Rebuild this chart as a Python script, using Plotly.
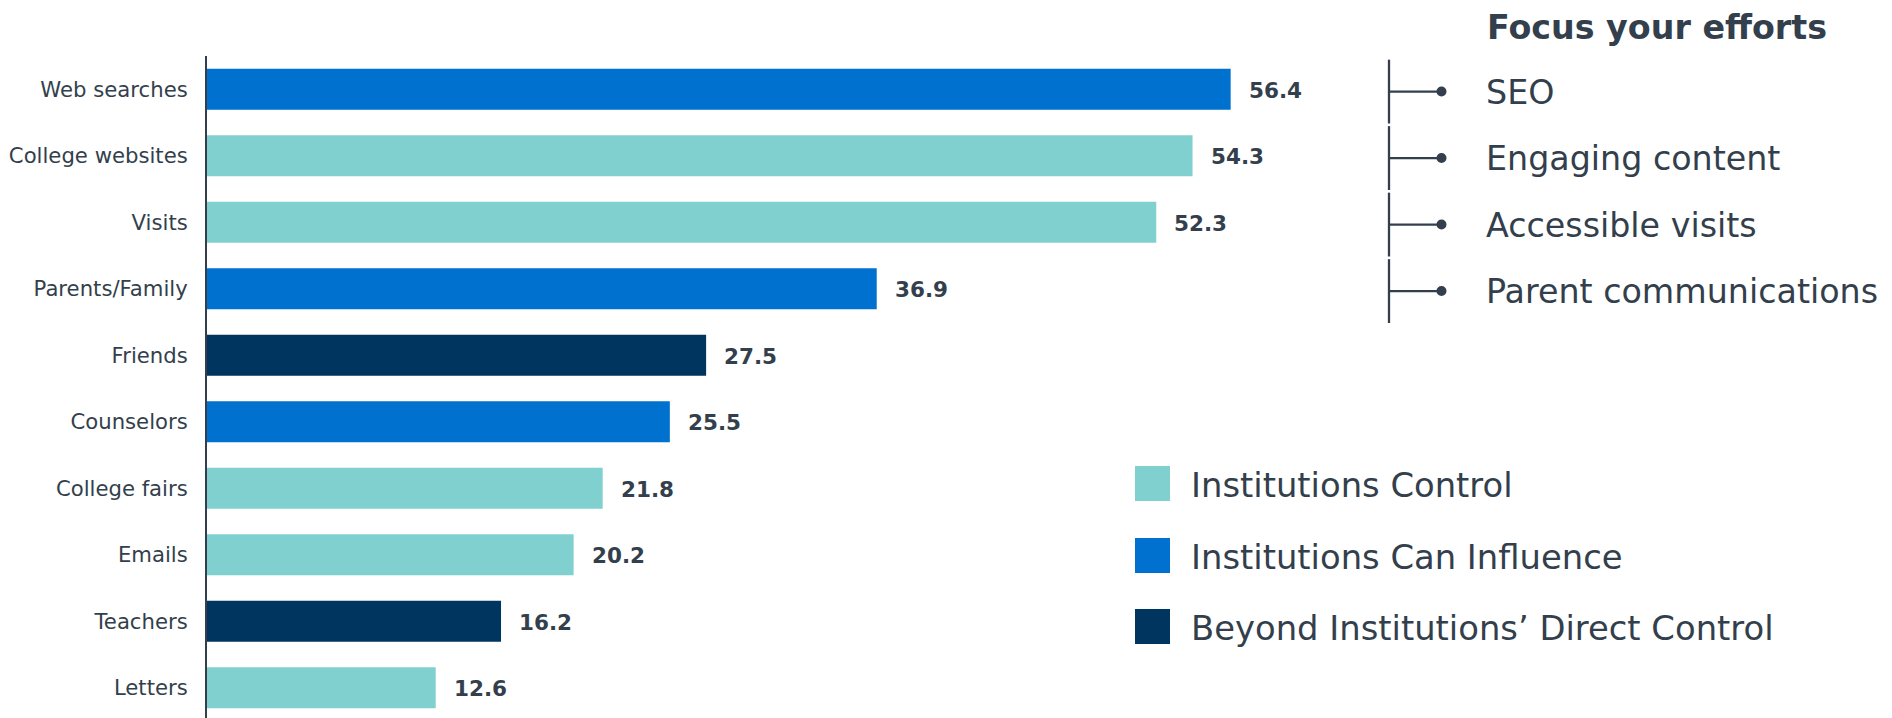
import plotly.graph_objects as go

# Information sources and the share of students using them
categories = ["Web searches", "College websites", "Visits", "Parents/Family", "Friends",
              "Counselors", "College fairs", "Emails", "Teachers", "Letters"]
values = [56.4, 54.3, 52.3, 36.9, 27.5, 25.5, 21.8, 20.2, 16.2, 12.6]
groups = ["influence", "control", "control", "influence", "beyond",
          "influence", "control", "control", "beyond", "control"]

group_names = {
    "control": "Institutions Control",
    "influence": "Institutions Can Influence",
    "beyond": "Beyond Institutions\u2019 Direct Control",
}
group_order = ["control", "influence", "beyond"]
group_colors = {"control": "#80D0CF", "influence": "#0071CE", "beyond": "#00355F"}

focus_title = "Focus your efforts"
focus_items = ["SEO", "Engaging content", "Accessible visits", "Parent communications"]

TEXT = "#333F4C"
FONT = "DejaVu Sans"

W, H = 1892, 718
ML, MR, MT, MB = 207, 0, 56, 0
PW, PH = W - ML - MR, H - MT - MB
PX_PER_UNIT = 18.15
ROW = 66.5                      # pixels per category row
Y_RANGE = [(H - MT) / ROW - 0.5, -0.5]


def px(x):
    """Horizontal pixel -> paper coordinate."""
    return (x - ML) / PW


def py(y):
    """Vertical pixel -> paper coordinate."""
    return 1 - (y - MT) / PH


fig = go.Figure()

for g in group_order:
    ys = [c for c, gg in zip(categories, groups) if gg == g]
    xs = [v for v, gg in zip(values, groups) if gg == g]
    fig.add_trace(go.Bar(
        x=xs, y=ys, orientation="h", name=group_names[g],
        marker=dict(color=group_colors[g], line=dict(width=0)),
        showlegend=False, hoverinfo="x+y",
    ))

annotations = []
shapes = []

# value labels beside each bar
for c, v in zip(categories, values):
    annotations.append(dict(
        x=v, y=c, xref="x", yref="y", text=f"<b>{v:.1f}</b>", showarrow=False,
        xanchor="left", yanchor="middle", xshift=16, yshift=-1,
        font=dict(family=FONT, size=21.5, color=TEXT),
    ))

# "Focus your efforts" panel
annotations.append(dict(
    x=px(1485), y=py(27), xref="paper", yref="paper", text=f"<b>{focus_title}</b>",
    showarrow=False, xanchor="left", yanchor="middle",
    font=dict(family=FONT, size=33.3, color=TEXT),
))
for i, item in enumerate(focus_items):
    yc = i + 0.035
    shapes.append(dict(type="line", xref="paper", yref="y",
                       x0=px(1389), x1=px(1389), y0=yc - 0.48, y1=yc + 0.48,
                       line=dict(color=TEXT, width=2.3)))
    shapes.append(dict(type="line", xref="paper", yref="y",
                       x0=px(1389), x1=px(1441), y0=yc, y1=yc,
                       line=dict(color=TEXT, width=2.3)))
    shapes.append(dict(type="circle", xref="paper", yref="y",
                       x0=px(1436.5), x1=px(1446.5), y0=yc - 5 / ROW, y1=yc + 5 / ROW,
                       fillcolor=TEXT, line=dict(width=0)))
    annotations.append(dict(
        x=px(1484), y=i, xref="paper", yref="y", text=item, showarrow=False,
        xanchor="left", yanchor="middle", yshift=-3,
        font=dict(family=FONT, size=33.3, color=TEXT),
    ))

# colour key
key_centers = [483.5, 555.5, 626.5]
for g, cy in zip(group_order, key_centers):
    shapes.append(dict(type="rect", xref="paper", yref="paper",
                       x0=px(1135), x1=px(1170), y0=py(cy + 17.5), y1=py(cy - 17.5),
                       fillcolor=group_colors[g], line=dict(width=0)))
    annotations.append(dict(
        x=px(1189), y=py(cy + 2), xref="paper", yref="paper", text=group_names[g],
        showarrow=False, xanchor="left", yanchor="middle",
        font=dict(family=FONT, size=33.8, color=TEXT),
    ))

fig.update_layout(
    width=W, height=H,
    margin=dict(l=ML, r=MR, t=MT, b=MB),
    paper_bgcolor="white", plot_bgcolor="white",
    barmode="overlay", bargap=0.38,
    showlegend=False,
    annotations=annotations, shapes=shapes,
    xaxis=dict(range=[0, PW / PX_PER_UNIT], visible=False, fixedrange=True),
    yaxis=dict(
        categoryorder="array", categoryarray=categories, range=Y_RANGE,
        showline=True, linecolor=TEXT, linewidth=2, showgrid=False, zeroline=False,
        ticks="outside", ticklen=13, tickcolor="rgba(0,0,0,0)",
        tickfont=dict(family=FONT, size=21.2, color=TEXT), fixedrange=True,
    ),
)

fig.write_html("out.html")
